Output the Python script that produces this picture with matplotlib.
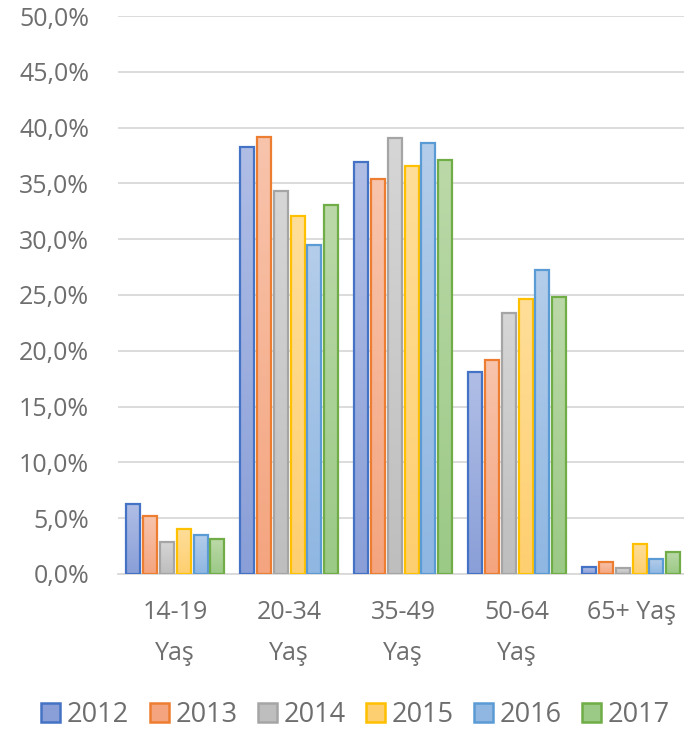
import numpy as np
import matplotlib
matplotlib.use("Agg")
import matplotlib.pyplot as plt
import matplotlib.patches as patches
from matplotlib.colors import to_rgb

plt.rcParams['font.family'] = ['Open Sans', 'DejaVu Sans']

# --- DATA ---
categories = ["14-19\nYaş", "20-34\nYaş", "35-49\nYaş", "50-64\nYaş", "65+ Yaş"]
years = ["2012", "2013", "2014", "2015", "2016", "2017"]
v2012 = [6.3, 38.3, 36.9, 18.1, 0.6]
v2013 = [5.2, 39.2, 35.4, 19.2, 1.1]
v2014 = [2.9, 34.3, 39.1, 23.4, 0.5]
v2015 = [4.0, 32.1, 36.6, 24.6, 2.7]
v2016 = [3.5, 29.5, 38.6, 27.2, 1.3]
v2017 = [3.1, 33.1, 37.1, 24.8, 2.0]
series = [v2012, v2013, v2014, v2015, v2016, v2017]
y_ticks = [0, 5, 10, 15, 20, 25, 30, 35, 40, 45, 50]

# edge, gradient top, gradient bottom
edge_colors = ['#4472C4', '#ED7D31', '#A5A5A5', '#FFC000', '#5B9BD5', '#70AD47']
top_colors = ['#B0BEE6', '#F8C4AC', '#D6D6D6', '#FFDE99', '#B4CDEA', '#BBD9A8']
bot_colors = ['#8A9FD8', '#F4A57F', '#BEBEBE', '#FECF70', '#8FB7E2', '#9BC986']

fig = plt.figure(figsize=(6.84, 7.31), dpi=100)
ax = fig.add_axes([0.173, 0.2148, 0.833, 0.7633])

x = np.arange(len(categories))
pitch = 0.1475
width = 0.123
text_col = '#6E6E6E'

for i, vals in enumerate(series):
    offs = (i - 2.5) * pitch
    bars = ax.bar(x + offs, vals, width, facecolor='none',
                  edgecolor=edge_colors[i], linewidth=1.6, zorder=4)
    # vertical gradient fill clipped to each bar
    c_top = np.array(to_rgb(top_colors[i]))
    c_bot = np.array(to_rgb(bot_colors[i]))
    t = np.linspace(0, 1, 64)[:, None]
    grad = (c_top * (1 - t) + c_bot * t)[:, None, :]
    for r in bars:
        bx, by = r.get_x(), r.get_y()
        bw, bh = r.get_width(), r.get_height()
        im = ax.imshow(grad, extent=[bx, bx + bw, by, by + bh],
                       aspect='auto', origin='upper', zorder=3,
                       interpolation='bilinear')
        clip = patches.Rectangle((bx, by), bw, bh, transform=ax.transData)
        im.set_clip_path(clip)

ax.set_xlim(-0.5, len(categories) - 0.5)
ax.set_ylim(0, 50)
ax.set_yticks(y_ticks)
ax.set_yticklabels([f"{v:.1f}%".replace('.', ',') for v in y_ticks])
ax.set_xticks(x)
ax.set_xticklabels(categories, linespacing=1.8, va='top')

ax.grid(axis='y', color='#D9D9D9', linewidth=1.3, zorder=0)
ax.set_axisbelow(True)
for s in ['top', 'right', 'left']:
    ax.spines[s].set_visible(False)
ax.spines['bottom'].set_color('#D9D9D9')
ax.spines['bottom'].set_linewidth(1.3)
ax.tick_params(axis='y', length=0, pad=21, labelsize=18, labelcolor=text_col)
ax.tick_params(axis='x', length=0, pad=19, labelsize=18, labelcolor=text_col)

handles = [patches.Patch(facecolor=bot_colors[i], edgecolor=edge_colors[i],
                         linewidth=1.8, label=years[i]) for i in range(len(years))]
leg = fig.legend(handles=handles, loc='lower center', ncol=6,
                 bbox_to_anchor=(0.52, -0.03), frameon=False,
                 fontsize=19.5, handlelength=0.7, handleheight=0.7,
                 handletextpad=0.25, columnspacing=0.75)
for t in leg.get_texts():
    t.set_color(text_col)

fig.savefig("out.png", dpi=100)
